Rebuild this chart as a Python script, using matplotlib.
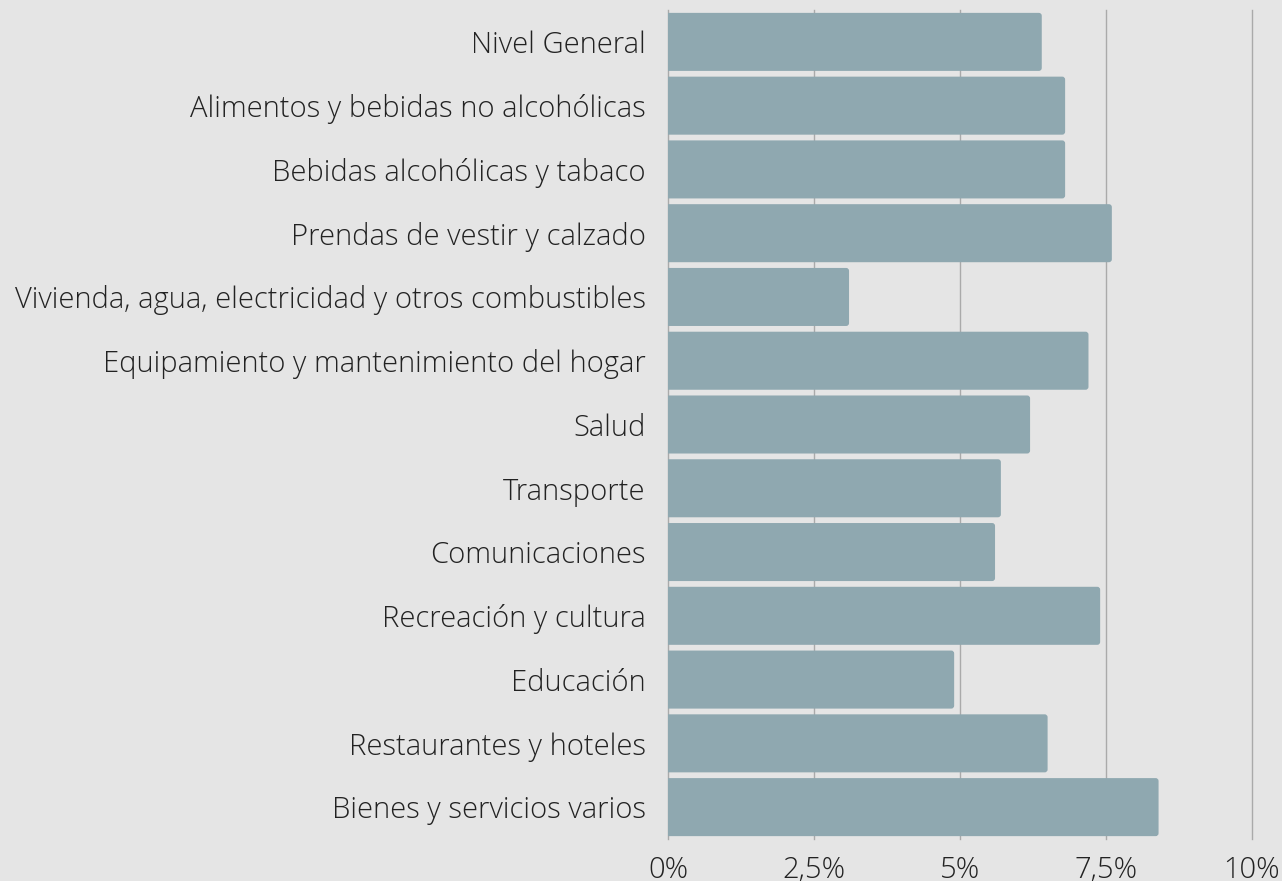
import matplotlib
matplotlib.use("Agg")
import matplotlib.pyplot as plt
from matplotlib.patches import FancyBboxPatch

categories = [
    "Nivel General",
    "Alimentos y bebidas no alcohólicas",
    "Bebidas alcohólicas y tabaco",
    "Prendas de vestir y calzado",
    "Vivienda, agua, electricidad y otros combustibles",
    "Equipamiento y mantenimiento del hogar",
    "Salud",
    "Transporte",
    "Comunicaciones",
    "Recreación y cultura",
    "Educación",
    "Restaurantes y hoteles",
    "Bienes y servicios varios",
]
values = [6.4, 6.8, 6.8, 7.6, 3.1, 7.2, 6.2, 5.7, 5.6, 7.4, 4.9, 6.5, 8.4]
xticks = [0, 2.5, 5, 7.5, 10]
xticklabels = ["0%", "2,5%", "5%", "7,5%", "10%"]

plt.rcParams['font.family'] = ['Open Sans', 'DejaVu Sans']
bg = "#e5e5e5"
bar_color = "#8fa8b0"
text_color = "#222222"

fig = plt.figure(figsize=(12.82, 8.81), dpi=100, facecolor=bg)
ax = fig.add_axes([668/1282, 1-839/881, (1252-668)/1282, (839-10)/881])
ax.set_facecolor(bg)

n = len(categories)
ypos = list(range(n))
bars = ax.barh(ypos, values, height=0.91, color=bar_color)
for b in bars:
    x0, y0 = b.get_x(), b.get_y()
    w, h = b.get_width(), b.get_height()
    b.remove()
    p = FancyBboxPatch((x0 - 0.2, y0), w + 0.2, h,
                       boxstyle="round,pad=0,rounding_size=0.05",
                       mutation_aspect=0.92,
                       facecolor=bar_color, edgecolor="none", zorder=2)
    ax.add_patch(p)

ax.set_xlim(0, 10)
ax.set_ylim(n - 0.5, -0.5)
ax.set_yticks(ypos)
ax.set_yticklabels(categories, fontsize=21, fontweight='light', color=text_color)
ax.set_xticks(xticks)
ax.set_xticklabels(xticklabels, fontsize=21, fontweight='light', color=text_color)
ax.tick_params(axis='y', length=0, pad=16)
ax.tick_params(axis='x', length=0, pad=12)
ax.grid(axis='x', color="#aaaaaa", linewidth=1, zorder=0)
for gl in ax.get_xgridlines():
    gl.set_clip_on(False)
ax.set_axisbelow(True)
for s in ax.spines.values():
    s.set_visible(False)

fig.savefig("out.png", dpi=100, facecolor=bg)
